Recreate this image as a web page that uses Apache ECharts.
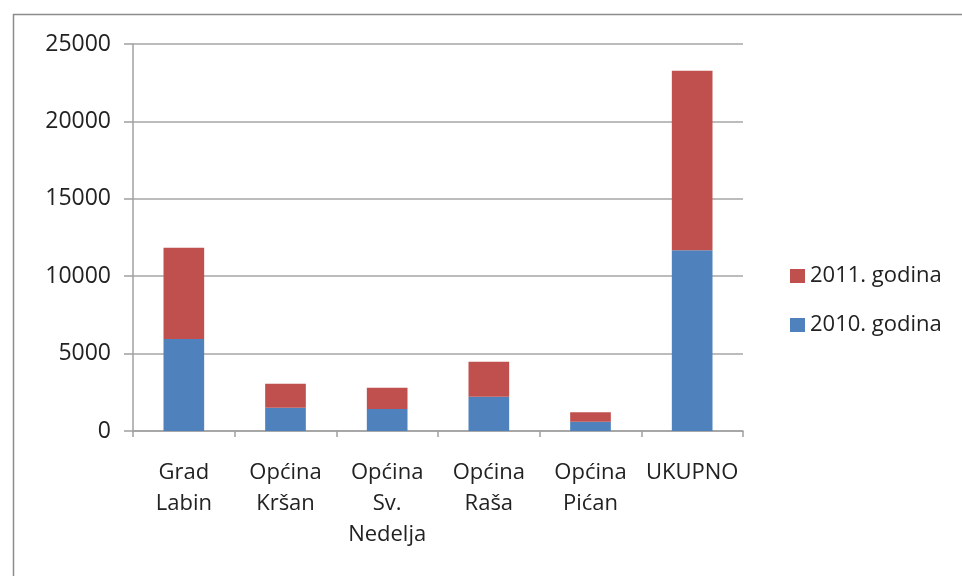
<!DOCTYPE html>
<html>
<head>
<meta charset="utf-8">
<script src="https://cdn.jsdelivr.net/npm/echarts@6/dist/echarts.min.js"></script>
<style>html,body{margin:0;padding:0;background:#fff;}#c{width:962px;height:576px;}</style>
</head>
<body>
<div id="c"></div>
<script>
const categories = ['Grad\nLabin', 'Općina\nKršan', 'Općina\nSv.\nNedelja', 'Općina\nRaša', 'Općina\nPićan', 'UKUPNO'];
const values2010 = [5950, 1500, 1420, 2210, 600, 11680];
const values2011 = [5880, 1550, 1380, 2260, 610, 11600];
const yTicks = [0, 5000, 10000, 15000, 20000, 25000];

const chart = echarts.init(document.getElementById('c'), null, {renderer: 'canvas'});
const font = '"Open Sans", "Noto Sans", sans-serif';
chart.setOption({
  animation: false,
  backgroundColor: '#fff',
  graphic: [{
    type: 'rect', left: 11, top: 12,
    shape: {x: 0, y: 0, width: 1000, height: 1000},
    style: {fill: 'none', stroke: '#8c8c8c', lineWidth: 1.5},
    silent: true
  }],
  grid: {left: 133, right: 219, top: 44, bottom: 145, containLabel: false},
  legend: {
    orient: 'vertical', left: 785, top: 259, itemGap: 25,
    itemWidth: 15, itemHeight: 14, icon: 'rect',
    textStyle: {fontFamily: font, fontSize: 22, lineHeight: 24, color: '#222'},
    data: ['2011. godina', '2010. godina']
  },
  xAxis: {
    type: 'category', data: categories,
    axisLine: {lineStyle: {color: '#a0a0a0', width: 1.5}},
    axisTick: {show: true, length: 6, lineStyle: {color: '#a0a0a0', width: 1.5}},
    axisLabel: {fontFamily: font, fontSize: 22, color: '#222', lineHeight: 31, margin: 26, interval: 0}
  },
  yAxis: {
    type: 'value', min: 0, max: 25000, interval: 5000,
    axisLine: {show: true, lineStyle: {color: '#a0a0a0', width: 1.5}},
    axisTick: {show: true, length: 9, lineStyle: {color: '#a0a0a0', width: 1.5}},
    splitLine: {lineStyle: {color: '#a6a6a6', width: 1.5}},
    axisLabel: {fontFamily: font, fontSize: 23, color: '#222', margin: 22,
      formatter: v => yTicks.includes(v) ? String(v) : ''}
  },
  series: [
    {name: '2010. godina', type: 'bar', stack: 't', data: values2010, barWidth: '40%',
      itemStyle: {color: '#4F81BD'}},
    {name: '2011. godina', type: 'bar', stack: 't', data: values2011, barWidth: '40%',
      itemStyle: {color: '#C0504D'}}
  ]
});
</script>
</body>
</html>
